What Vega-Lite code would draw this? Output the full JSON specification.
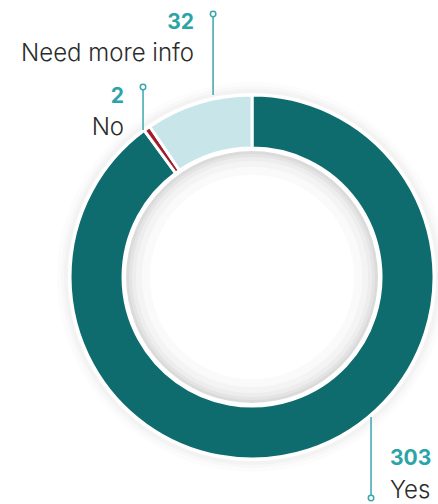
{
  "$schema": "https://vega.github.io/schema/vega-lite/v6.json",
  "width": 438,
  "height": 504,
  "autosize": "none",
  "padding": 0,
  "background": "white",
  "config": {"view": {"stroke": null}},
  "datasets": {
    "slices": [
      {"answer": "Yes", "count": 303, "ord": 1},
      {"answer": "No", "count": 2, "ord": 2},
      {"answer": "Need more info", "count": 32, "ord": 3}
    ],
    "labels": [
      {"num": "32", "name": "Need more info", "lx": -31.9, "numy": 136.3, "namey": 118.7, "side": "right"},
      {"num": "2", "name": "No", "lx": -70.3, "numy": 95.6, "namey": 78.0, "side": "right"},
      {"num": "303", "name": "Yes", "lx": 75.8, "numy": -103.3, "namey": -121.2, "side": "left"}
    ],
    "leaders": [
      {"answer": "Need more info", "lx": -21.4, "y1": 144.5, "y2": 100, "dot": 144.5},
      {"answer": "No", "lx": -59.9, "y1": 104.4, "y2": 80.8, "dot": 104.4},
      {"answer": "Yes", "lx": 65.4, "y1": -76.9, "y2": -121.4, "dot": -121.4}
    ],
    "one": [{"c": 1}]
  },
  "layer": [
    {
      "data": {"name": "one"},
      "mark": {"type": "arc", "theta": 0, "theta2": 6.2832, "fill": "#000000", "opacity": 0.012, "radius": 195, "radius2": 184},
      "encoding": {
        "x": {"datum": 0, "type": "quantitative", "scale": {"domain": [-138.5, 102.2], "nice": false, "zero": false}, "axis": null},
        "y": {"datum": 0, "type": "quantitative", "scale": {"domain": [-124.7, 152.2], "nice": false, "zero": false}, "axis": null}
      }
    },
    {
      "data": {"name": "one"},
      "mark": {"type": "arc", "theta": 0, "theta2": 6.2832, "fill": "#000000", "opacity": 0.015, "radius": 191, "radius2": 184},
      "encoding": {"x": {"datum": 0, "type": "quantitative"}, "y": {"datum": 0, "type": "quantitative"}}
    },
    {
      "data": {"name": "one"},
      "mark": {"type": "arc", "theta": 0, "theta2": 6.2832, "fill": "#000000", "opacity": 0.02, "radius": 188, "radius2": 184},
      "encoding": {"x": {"datum": 0, "type": "quantitative"}, "y": {"datum": 0, "type": "quantitative"}}
    },
    {
      "data": {"name": "slices"},
      "mark": {"type": "arc", "radius": 182, "radius2": 129, "stroke": "white", "strokeWidth": 3},
      "encoding": {
        "x": {"datum": 0, "type": "quantitative"},
        "y": {"datum": 0, "type": "quantitative"},
        "theta": {"field": "count", "type": "quantitative", "stack": true},
        "order": {"field": "ord", "type": "quantitative"},
        "color": {"field": "answer", "type": "nominal", "scale": {"domain": ["Yes", "No", "Need more info"], "range": ["#0e6c6f", "#a11d2b", "#c8e6e9"]}, "legend": null}
      }
    },
    {
      "data": {"name": "one"},
      "mark": {"type": "arc", "theta": 0, "theta2": 6.2832, "fill": "#000000", "opacity": 0.018, "radius": 126, "radius2": 102},
      "encoding": {"x": {"datum": 0, "type": "quantitative"}, "y": {"datum": 0, "type": "quantitative"}}
    },
    {
      "data": {"name": "one"},
      "mark": {"type": "arc", "theta": 0, "theta2": 6.2832, "fill": "#000000", "opacity": 0.022, "radius": 126, "radius2": 110},
      "encoding": {"x": {"datum": 0, "type": "quantitative"}, "y": {"datum": 0, "type": "quantitative"}}
    },
    {
      "data": {"name": "one"},
      "mark": {"type": "arc", "theta": 0, "theta2": 6.2832, "fill": "#000000", "opacity": 0.028, "radius": 126, "radius2": 116},
      "encoding": {"x": {"datum": 0, "type": "quantitative"}, "y": {"datum": 0, "type": "quantitative"}}
    },
    {
      "data": {"name": "one"},
      "mark": {"type": "arc", "theta": 0, "theta2": 6.2832, "fill": "#000000", "opacity": 0.035, "radius": 126, "radius2": 120},
      "encoding": {"x": {"datum": 0, "type": "quantitative"}, "y": {"datum": 0, "type": "quantitative"}}
    },
    {
      "data": {"name": "one"},
      "mark": {"type": "arc", "theta": 0, "theta2": 6.2832, "fill": "#000000", "opacity": 0.04, "radius": 126, "radius2": 123},
      "encoding": {"x": {"datum": 0, "type": "quantitative"}, "y": {"datum": 0, "type": "quantitative"}}
    },
    {
      "data": {"name": "leaders"},
      "mark": {"type": "rule", "color": "#3aa7ac", "strokeWidth": 1.5},
      "encoding": {
        "x": {"field": "lx", "type": "quantitative"},
        "y": {"field": "y1", "type": "quantitative"},
        "y2": {"field": "y2"}
      }
    },
    {
      "data": {"name": "leaders"},
      "mark": {"type": "point", "shape": "circle", "size": 30, "filled": true, "fill": "white", "stroke": "#3aa7ac", "strokeWidth": 1.5, "opacity": 1},
      "encoding": {
        "x": {"field": "lx", "type": "quantitative"},
        "y": {"field": "dot", "type": "quantitative"}
      }
    },
    {
      "data": {"name": "labels"},
      "transform": [{"filter": "datum.side === 'right'"}],
      "mark": {"type": "text", "align": "right", "baseline": "alphabetic", "font": "Inter", "fontWeight": "bold", "fontSize": 21, "color": "#2ba4a9"},
      "encoding": {
        "x": {"field": "lx", "type": "quantitative"},
        "y": {"field": "numy", "type": "quantitative"},
        "text": {"field": "num"}
      }
    },
    {
      "data": {"name": "labels"},
      "transform": [{"filter": "datum.side === 'right'"}],
      "mark": {"type": "text", "align": "right", "baseline": "alphabetic", "font": "Inter", "fontWeight": 300, "fontSize": 24, "color": "#2b2b2b"},
      "encoding": {
        "x": {"field": "lx", "type": "quantitative"},
        "y": {"field": "namey", "type": "quantitative"},
        "text": {"field": "name"}
      }
    },
    {
      "data": {"name": "labels"},
      "transform": [{"filter": "datum.side === 'left'"}],
      "mark": {"type": "text", "align": "left", "baseline": "alphabetic", "font": "Inter", "fontWeight": "bold", "fontSize": 21, "color": "#2ba4a9"},
      "encoding": {
        "x": {"field": "lx", "type": "quantitative"},
        "y": {"field": "numy", "type": "quantitative"},
        "text": {"field": "num"}
      }
    },
    {
      "data": {"name": "labels"},
      "transform": [{"filter": "datum.side === 'left'"}],
      "mark": {"type": "text", "align": "left", "baseline": "alphabetic", "font": "Inter", "fontWeight": 300, "fontSize": 24, "color": "#2b2b2b"},
      "encoding": {
        "x": {"field": "lx", "type": "quantitative"},
        "y": {"field": "namey", "type": "quantitative"},
        "text": {"field": "name"}
      }
    }
  ]
}
